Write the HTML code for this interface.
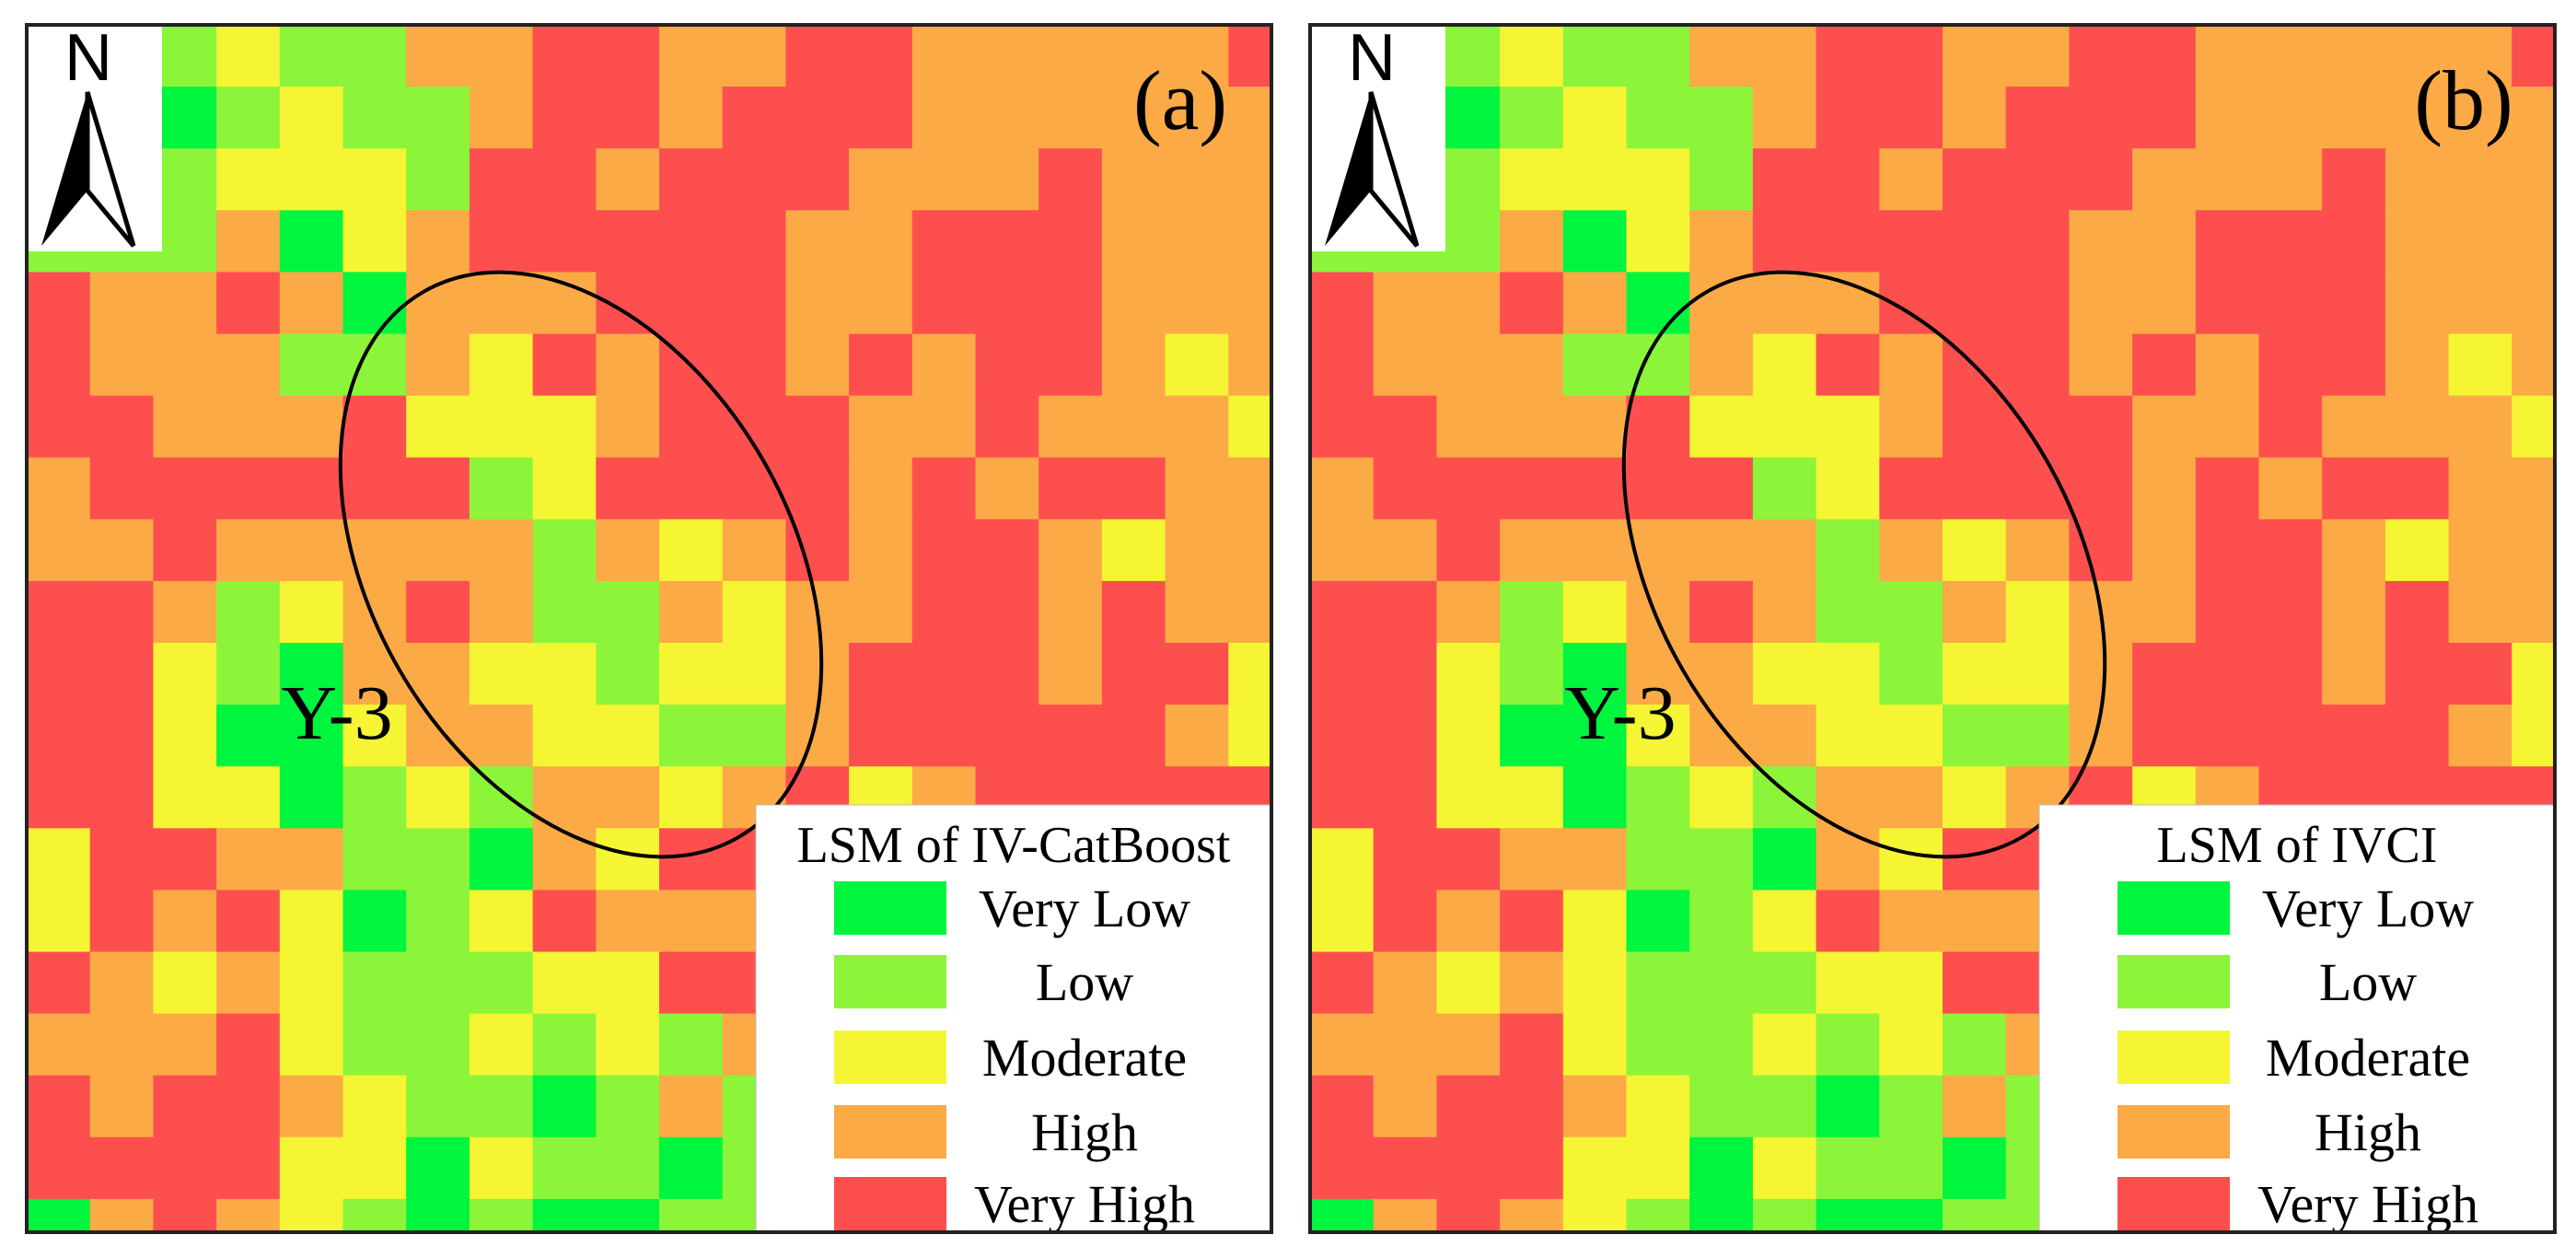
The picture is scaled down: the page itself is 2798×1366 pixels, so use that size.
<!DOCTYPE html>
<html><head><meta charset="utf-8"><style>
html,body{margin:0;padding:0;background:#fff;}
svg{display:block;}
</style></head>
<body>
<svg id="fig" width="2798" height="1366" viewBox="0 0 2798 1366" xmlns="http://www.w3.org/2000/svg">
<rect width="2798" height="1366" fill="#fff"/>
</svg>
<script>
const classNames = ["Very Low","Low","Moderate","High","Very High"];
const classCodes = ["G","L","Y","O","R"];
const classColors = ["#00f53f","#8cf53a","#f5f533","#fbaa45","#fe4f4f"];
const gridRows = [
"LLLYLLOORROORROOOOOR",
"LLGLYLLORRORRROOOOOO",
"LLLYYYLRRORRROOOROOO",
"LLLOGYORRRRROORRROOO",
"ROOROGOOORRROORRROOO",
"ROOOLLOYRORRORORROYO",
"RROOORYYYORRROOROOOY",
"ORRRRRRLYRRRRORORROO",
"OOROOOOOLOYORORROYOO",
"RROLYOROLLOYOORROROO",
"RRYLGOOYYLYYORRRORRY",
"RRYGGYOOYYLLORRRRROY",
"RRYYGLYLOOYORYORRRRR",
"YRROOLLGOYRRRRRRRRRR",
"YRORYGLYROOORRRRRRRR",
"ROYOYLLLYYRRRRRRRRRR",
"OOORYLLYLYLORRRRRRRR",
"RORROYLLGLOLRRRRRRRR",
"RRRRYYGYLLGLRRRRRRRR",
"GOROYLGLGGLLRRRRRRRR"
];
const panelLabels = ["(a)","(b)"];
const legendTitles = ["LSM of IV-CatBoost","LSM of IVCI"];

const NS="http://www.w3.org/2000/svg";
const svg=document.getElementById('fig');
const SERIF='font-family:"Liberation Serif",serif;';
const SANS='font-family:"Liberation Sans",sans-serif;';
function mk(tag,attrs,parent){const e=document.createElementNS(NS,tag);for(const k in attrs)e.setAttribute(k,attrs[k]);(parent||svg).appendChild(e);return e;}

const PW=1352, PH=1311, PY=27;
const panelX=[29,1423];
const bw=68.7, bh=67.1;

panelX.forEach((px,p)=>{
  const g=mk('g',{});
  
  
  const cp=mk('clipPath',{id:'cp'+p},g);
  mk('rect',{x:px,y:PY,width:PW,height:PH},cp);
  const cells=mk('g',{'clip-path':'url(#cp'+p+')'},g);
  
  
  gridRows.forEach((row,j)=>{
    for(let i=0;i<row.length;i++){
      const ci=classCodes.indexOf(row[i]);
      const r=mk('rect',{x:px+i*bw,y:PY+j*bh,width:bw+0.6,height:bh+0.6,fill:classColors[ci]},cells);
      
      
    }
  });
  const nb=mk('g',{},g);
  
  
  mk('rect',{x:px,y:PY+2,width:147,height:244,fill:'#fff'},nb);
  const nt=mk('text',{x:px+67,y:PY+60,style:SANS+'font-size:72px','text-anchor':'middle',fill:'#000'},nb);
  nt.textContent='N';
  mk('polygon',{points:`${px+66},${PY+73} ${px+16},${PY+240} ${px+66},${PY+180}`,fill:'#000'},nb);
  mk('polygon',{points:`${px+66},${PY+73} ${px+116},${PY+240} ${px+66},${PY+180}`,fill:'#fff',stroke:'#000','stroke-width':'5'},nb);
  const el=mk('ellipse',{cx:px+602,cy:613,rx:342,ry:228,transform:`rotate(60 ${px+602} 613)`,fill:'none',stroke:'#000','stroke-width':'4'},g);
  
  
  const yl=mk('text',{x:px+337,y:802,style:SERIF+'font-size:84px','text-anchor':'middle',fill:'#000'},g);
  yl.textContent='Y-3';
  
  
  const pl=mk('text',{x:px+1253,y:140,style:SERIF+'font-size:92px','text-anchor':'middle',fill:'#000'},g);
  pl.textContent=panelLabels[p];
  
  
  const lg=mk('g',{},g);
  
  
  const lx=px+792, ly=874;
  mk('rect',{x:lx,y:ly,width:PW-(lx-px),height:PY+PH-ly,fill:'#fff',stroke:'#bbb','stroke-width':'1'},lg);
  const lt=mk('text',{x:lx+(PW-(lx-px))/2,y:ly+62,style:SERIF+'font-size:56px','text-anchor':'middle',fill:'#000'},lg);
  lt.textContent=legendTitles[p];
  
  
  const centers=[986,1066,1148,1229,1307];
  classNames.forEach((nm,k)=>{
    const e=mk('g',{},lg);
    
    
    mk('rect',{x:lx+85,y:centers[k]-29,width:122,height:58,fill:classColors[k]},e);
    const t=mk('text',{x:lx+357,y:centers[k]+20,style:SERIF+'font-size:58px','text-anchor':'middle',fill:'#000'},e);
    t.textContent=nm;
  });
  const fr=mk('rect',{x:px,y:PY,width:PW,height:PH,fill:'none',stroke:'#222','stroke-width':'4'},g);
  
  
});
</script>
</body></html>
